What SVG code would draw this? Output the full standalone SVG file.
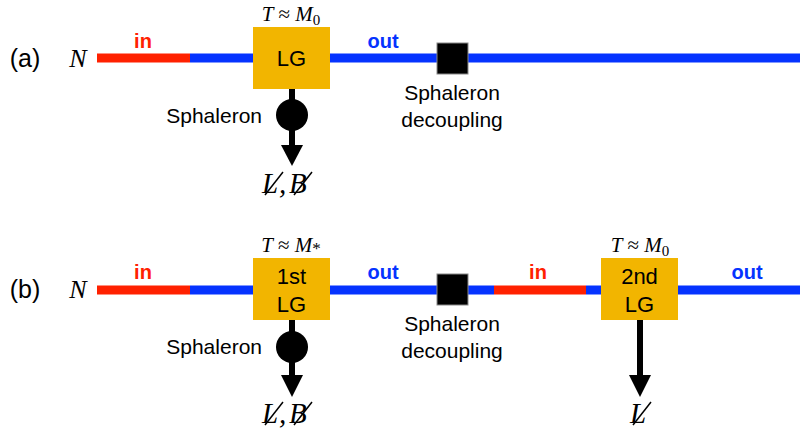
<svg xmlns="http://www.w3.org/2000/svg" width="800" height="428" viewBox="0 0 800 428">
<style>
.sans{font-family:"Liberation Sans",Arial,sans-serif;fill:#000}
.lab{font-size:21px}
.box-t{font-size:22px}
.tag{font-size:25px}
.io{font-size:20px;font-weight:bold}
.serif{font-family:"Liberation Serif","Times New Roman",serif;font-style:italic;fill:#000}
.box{fill:#F2B500}
.red{stroke:#FF2100;stroke-width:9}
.blue{stroke:#0533FF;stroke-width:9}
.stem{stroke:#000;stroke-width:6}
.sq{fill:#000;stroke:#888;stroke-width:1}
.sl{stroke:#000;stroke-width:1.5}
</style>
<rect width="800" height="428" fill="#fff"/>
<g id="connectors">
  <line class="red" x1="97" y1="58" x2="190" y2="58"/>
  <line class="blue" x1="190" y1="58" x2="253" y2="58"/>
  <line class="blue" x1="330" y1="58" x2="800" y2="58"/>
  <line class="stem" x1="292" y1="89" x2="292" y2="147"/>
  <polygon points="281,145 303,145 292,166" fill="#000"/>
  <line class="red" x1="97" y1="290" x2="190" y2="290"/>
  <line class="blue" x1="190" y1="290" x2="253" y2="290"/>
  <line class="blue" x1="330" y1="290" x2="494" y2="290"/>
  <line class="red" x1="494" y1="290" x2="586" y2="290"/>
  <line class="blue" x1="586" y1="290" x2="601" y2="290"/>
  <line class="blue" x1="678" y1="290" x2="800" y2="290"/>
  <line class="stem" x1="292" y1="320" x2="292" y2="377"/>
  <polygon points="281,375 303,375 292,397" fill="#000"/>
  <line class="stem" x1="640" y1="320" x2="640" y2="377"/>
  <polygon points="629,375 651,375 640,397" fill="#000"/>
</g>
<g id="labels-a">
  <text class="sans tag" x="25" y="67" text-anchor="middle">(a)</text>
  <text class="serif" font-size="26" x="78" y="67" text-anchor="middle">N</text>
  <text class="sans io" x="143" y="48" text-anchor="middle" style="fill:#FF2100">in</text>
  <text class="sans io" x="383" y="48" text-anchor="middle" style="fill:#0533FF">out</text>
</g>
<g id="lg-a">
  <rect class="box" x="253" y="27" width="77" height="62"/>
  <text class="sans box-t" x="291.5" y="66" text-anchor="middle">LG</text>
  <text class="serif" font-size="21" x="291" y="21" text-anchor="middle">T <tspan font-style="normal">≈</tspan> M<tspan font-size="15" font-style="normal" dy="4">0</tspan></text>
</g>
<g id="sphaleron-a">
  <circle cx="292" cy="115" r="16" fill="#000"/>
  <text class="sans lab" x="262" y="123" text-anchor="end">Sphaleron</text>
</g>
<g id="result-a">
  <text class="serif" font-size="29" x="262" y="193">L</text>
  <text class="serif" font-size="29" x="279" y="193">,</text>
  <text class="serif" font-size="29" x="289" y="193">B</text>
  <line class="sl" x1="265" y1="195" x2="283" y2="172"/>
  <line class="sl" x1="294" y1="195" x2="312" y2="172"/>
</g>
<g id="decoupling-a">
  <rect class="sq" x="437" y="43" width="31" height="31"/>
  <text class="sans lab" x="452" y="100" text-anchor="middle">Sphaleron</text>
  <text class="sans lab" x="452" y="127" text-anchor="middle">decoupling</text>
</g>
<g id="labels-b">
  <text class="sans tag" x="25" y="298" text-anchor="middle">(b)</text>
  <text class="serif" font-size="26" x="78" y="298" text-anchor="middle">N</text>
  <text class="sans io" x="143" y="279" text-anchor="middle" style="fill:#FF2100">in</text>
  <text class="sans io" x="383" y="279" text-anchor="middle" style="fill:#0533FF">out</text>
  <text class="sans io" x="538" y="279" text-anchor="middle" style="fill:#FF2100">in</text>
  <text class="sans io" x="747" y="279" text-anchor="middle" style="fill:#0533FF">out</text>
</g>
<g id="lg1-b">
  <rect class="box" x="253" y="258" width="77" height="62"/>
  <text class="sans box-t" x="291.5" y="284" text-anchor="middle">1st</text>
  <text class="sans box-t" x="291.5" y="312" text-anchor="middle">LG</text>
  <text class="serif" font-size="21" x="291" y="252" text-anchor="middle">T <tspan font-style="normal">≈</tspan> M<tspan font-size="17" font-style="normal" dy="2">*</tspan></text>
</g>
<g id="sphaleron-b">
  <circle cx="292" cy="347" r="16" fill="#000"/>
  <text class="sans lab" x="262" y="354" text-anchor="end">Sphaleron</text>
</g>
<g id="result-b1">
  <text class="serif" font-size="29" x="262" y="423">L</text>
  <text class="serif" font-size="29" x="279" y="423">,</text>
  <text class="serif" font-size="29" x="289" y="423">B</text>
  <line class="sl" x1="265" y1="425" x2="283" y2="402"/>
  <line class="sl" x1="294" y1="425" x2="312" y2="402"/>
</g>
<g id="decoupling-b">
  <rect class="sq" x="437" y="274" width="31" height="31"/>
  <text class="sans lab" x="452" y="331" text-anchor="middle">Sphaleron</text>
  <text class="sans lab" x="452" y="358" text-anchor="middle">decoupling</text>
</g>
<g id="lg2-b">
  <rect class="box" x="601" y="258" width="77" height="62"/>
  <text class="sans box-t" x="639.5" y="284" text-anchor="middle">2nd</text>
  <text class="sans box-t" x="639.5" y="312" text-anchor="middle">LG</text>
  <text class="serif" font-size="21" x="640" y="252" text-anchor="middle">T <tspan font-style="normal">≈</tspan> M<tspan font-size="15" font-style="normal" dy="4">0</tspan></text>
</g>
<g id="result-b2">
  <text class="serif" font-size="29" x="630" y="423">L</text>
  <line class="sl" x1="633" y1="425" x2="651" y2="402"/>
</g>
</svg>
